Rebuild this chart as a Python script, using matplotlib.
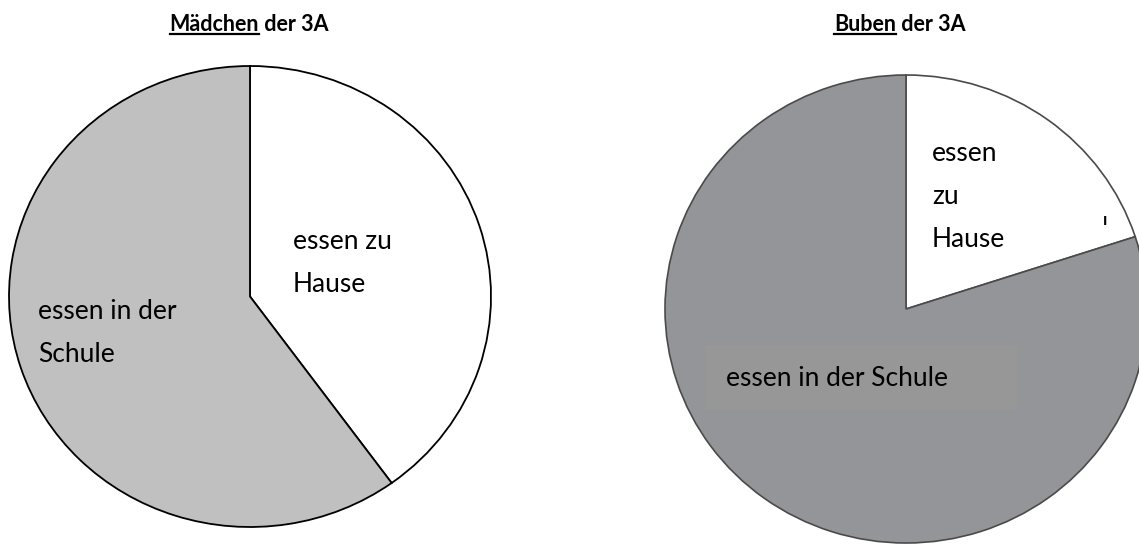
import matplotlib.pyplot as plt

# data
labels = ["essen zu Hause", "essen in der Schule"]
maedchen = [40, 60]
buben = [20, 80]

plt.rcParams['font.family'] = ['Lato', 'DejaVu Sans']

fig = plt.figure(figsize=(11.39, 5.44), dpi=100)
W, H = 1139, 544


def pie_axes(cx, cy, rx, ry):
    # axes placed in pixel terms (y from top), pie fills it
    ax = fig.add_axes([(cx - rx) / W, (H - cy - ry) / H, 2 * rx / W, 2 * ry / H])
    ax.axis('off')
    return ax


def fix(ax):
    ax.set_xlim(-1, 1)
    ax.set_ylim(-1, 1)
    ax.set_aspect('auto')


# left pie: girls
ax1 = pie_axes(250, 296.5, 241, 230.5)
ax1.pie(maedchen, colors=["white", "#c0c0c0"], startangle=90, counterclock=False,
        radius=1, wedgeprops=dict(edgecolor="black", linewidth=1.3))
fix(ax1)
ax1.text(0.178, 0.145, "essen zu\nHause", fontsize=19, ha="left", va="center", linespacing=1.9)
ax1.text(-0.88, -0.16, "essen in der\nSchule", fontsize=19, ha="left", va="center", linespacing=1.9)

# right pie: boys
ax2 = pie_axes(906, 309, 241, 234)
ax2.pie(buben, colors=["white", "#939598"], startangle=90, counterclock=False,
        radius=1, wedgeprops=dict(edgecolor="#4a4a4a", linewidth=1.2))
fix(ax2)
# slightly lighter box behind the label
ax2.add_patch(plt.Rectangle((-0.834, -0.432), 1.3, 0.278, facecolor="#979797", edgecolor="none"))
ax2.text(0.108, 0.479, "essen\nzu\nHause", fontsize=19, ha="left", va="center", linespacing=1.9)
ax2.text(-0.745, -0.295, "essen in der Schule", fontsize=19, ha="left", va="center")
ax2.text(0.824, 0.38, "ı", fontsize=12, ha="center", va="center", fontweight="bold")


def title(cx, y, under, rest):
    t1 = fig.text(0, 1 - y / H, under, fontsize=15.5, fontweight="bold", ha="left", va="baseline")
    t2 = fig.text(0, 1 - y / H, rest, fontsize=15.5, fontweight="bold", ha="left", va="baseline")
    fig.canvas.draw()
    r = fig.canvas.get_renderer()
    w1 = t1.get_window_extent(r).width
    w2 = t2.get_window_extent(r).width
    x0 = cx - (w1 + w2) / 2
    t1.set_x(x0 / W)
    t2.set_x((x0 + w1) / W)
    uy = 1 - (y + 2.5) / H
    fig.add_artist(plt.Line2D([x0 / W, (x0 + w1) / W], [uy, uy], color="black", linewidth=1.6))


title(249, 31, "Mädchen", " der 3A")
title(900, 31, "Buben", " der 3A")

fig.savefig("out.png", dpi=100)
